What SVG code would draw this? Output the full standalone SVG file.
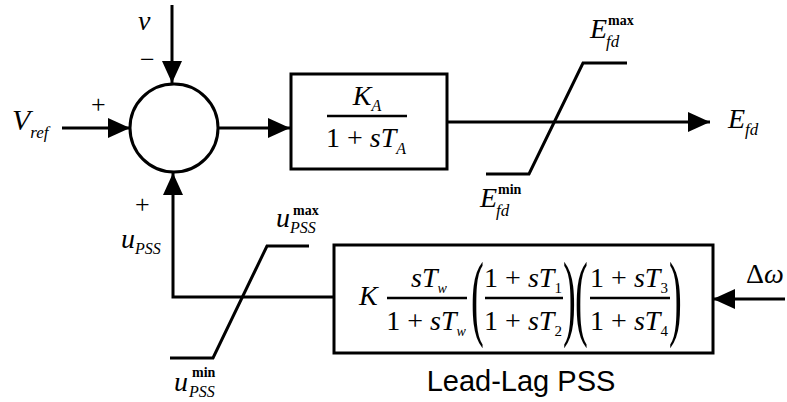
<svg xmlns="http://www.w3.org/2000/svg" width="787" height="402" viewBox="0 0 787 402">
<style>
.ln{fill:none;stroke:#000;stroke-width:3}
.fl{fill:none;stroke:#000;stroke-width:2.5}
.t{font-family:"Liberation Serif",serif;fill:#000}
.i{font-style:italic}
.n{font-style:normal}
.b{font-weight:bold}
.m{text-anchor:middle}
.s{font-family:"Liberation Sans",Arial,sans-serif;fill:#000}
</style>
<defs>
<marker id="ah" markerUnits="userSpaceOnUse" markerWidth="22" markerHeight="20" refX="22" refY="10" orient="auto">
<path d="M0,0 L22,10 L0,20 z" fill="#000"/>
</marker>
</defs>
<rect width="787" height="402" fill="#fff"/>

<g id="connectors">
<line class="ln" x1="172" y1="5" x2="172" y2="83" marker-end="url(#ah)"/>
<line class="ln" x1="62" y1="128" x2="130" y2="128" marker-end="url(#ah)"/>
<line class="ln" x1="218" y1="128" x2="290" y2="128" marker-end="url(#ah)"/>
<line class="ln" x1="447" y1="122" x2="710" y2="122" marker-end="url(#ah)"/>
<polyline class="ln" points="334,297 173,297 173,173" marker-end="url(#ah)"/>
<line class="ln" x1="785" y1="299" x2="713" y2="299" marker-end="url(#ah)"/>
</g>

<g id="sum">
<circle class="ln" cx="174" cy="128" r="44"/>
<text class="t i" x="138" y="30" font-size="28">v</text>
<text class="t" x="140" y="68" font-size="26">−</text>
<text class="t" x="91" y="113" font-size="26">+</text>
<text class="t" x="135" y="213" font-size="26">+</text>
</g>

<g id="vref">
<text class="t i" x="12" y="130" font-size="30">V<tspan font-size="17" dy="8">ref</tspan></text>
</g>

<g id="ka">
<rect class="ln" x="291" y="74" width="156" height="95"/>
<text class="t i m" x="367" y="105" font-size="28">K<tspan font-size="16" dy="6">A</tspan></text>
<line class="fl" x1="327" y1="116" x2="407" y2="116"/>
<text class="t m" x="366" y="147" font-size="28">1 + <tspan class="i">sT</tspan><tspan class="i" font-size="16" dy="7">A</tspan></text>
</g>

<g id="efd-limiter">
<polyline class="ln" points="486,174 529,174 583,63 627,63"/>
<text class="t i" x="590" y="38" font-size="28">E</text>
<text class="t b" x="608" y="25" font-size="14">max</text>
<text class="t i" x="606" y="47" font-size="17">fd</text>
<text class="t i" x="480" y="207" font-size="28">E</text>
<text class="t b" x="498" y="194" font-size="14">min</text>
<text class="t i" x="496" y="216" font-size="17">fd</text>
</g>

<g id="efd">
<text class="t i" x="728" y="128" font-size="28">E<tspan font-size="17" dy="7">fd</tspan></text>
</g>

<g id="upss">
<text class="t i" x="121" y="248" font-size="28">u<tspan font-size="16" dy="6">PSS</tspan></text>
</g>

<g id="upss-limiter">
<polyline class="ln" points="170,358 213,358 267,246 309,246"/>
<text class="t i" x="276" y="227" font-size="28">u</text>
<text class="t b" x="293" y="215" font-size="14">max</text>
<text class="t i" x="290" y="233" font-size="16">PSS</text>
<text class="t i" x="174" y="391" font-size="28">u</text>
<text class="t b" x="192" y="377" font-size="14">min</text>
<text class="t i" x="189" y="397" font-size="16">PSS</text>
</g>

<g id="pss">
<rect class="ln" x="334" y="245" width="379" height="108"/>
<text class="t i" x="359" y="305" font-size="28">K</text>
<text class="t i m" x="429" y="287" font-size="28">sT<tspan font-size="14" dy="6">w</tspan></text>
<line class="fl" x1="387" y1="298" x2="467" y2="298"/>
<text class="t m" x="426" y="330" font-size="28">1 + <tspan class="i">sT</tspan><tspan class="i" font-size="14" dy="6">w</tspan></text>
<text class="t" transform="translate(471,328) scale(0.4,1)" font-size="96">(</text>
<text class="t m" x="523" y="287" font-size="28">1 + <tspan class="i">sT</tspan><tspan font-size="15" dy="6">1</tspan></text>
<line class="fl" x1="485" y1="298" x2="563" y2="298"/>
<text class="t m" x="523" y="330" font-size="28">1 + <tspan class="i">sT</tspan><tspan font-size="15" dy="6">2</tspan></text>
<text class="t" transform="translate(563,328) scale(0.4,1)" font-size="96">)</text>
<text class="t" transform="translate(575,328) scale(0.4,1)" font-size="96">(</text>
<text class="t m" x="629" y="287" font-size="28">1 + <tspan class="i">sT</tspan><tspan font-size="15" dy="6">3</tspan></text>
<line class="fl" x1="590" y1="298" x2="670" y2="298"/>
<text class="t m" x="629" y="330" font-size="28">1 + <tspan class="i">sT</tspan><tspan font-size="15" dy="6">4</tspan></text>
<text class="t" transform="translate(669,328) scale(0.4,1)" font-size="96">)</text>
<text class="s m" x="521" y="391" font-size="29">Lead-Lag PSS</text>
</g>

<g id="dw">
<text class="t i" x="746" y="283" font-size="28"><tspan class="n">Δ</tspan>ω</text>
</g>
</svg>
